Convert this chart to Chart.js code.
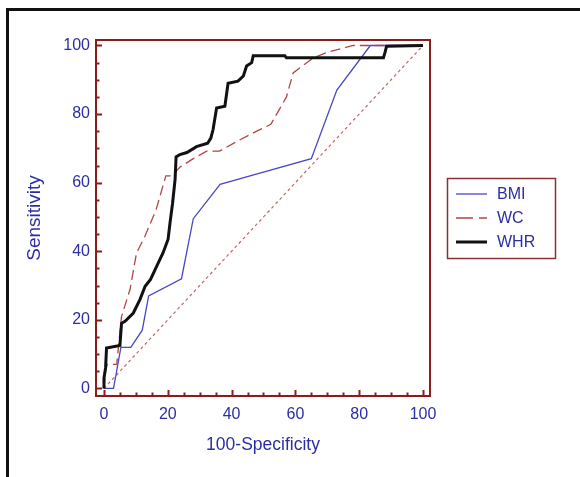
<!DOCTYPE html>
<html>
<head>
<meta charset="utf-8">
<script src="https://cdn.jsdelivr.net/npm/chart.js@4.4.1/dist/chart.umd.min.js"></script>
<style>
  html, body { margin: 0; padding: 0; background: #ffffff; }
  #wrap { position: relative; width: 580px; height: 477px; overflow: hidden; }
  canvas { position: absolute; left: 0; top: 0; }
</style>
</head>
<body>
<div id="wrap"><canvas id="c" width="580" height="477"></canvas></div>
<script>
// ---- data ----
const X_TICKS = [0, 20, 40, 60, 80, 100];
const Y_TICKS = [0, 20, 40, 60, 80, 100];
const X_TITLE = '100-Specificity';
const Y_TITLE = 'Sensitivity';
const SERIES_NAMES = ['BMI', 'WC', 'WHR'];

const BMI_X = [0, 3, 5.3, 8.4, 12, 14, 24.3, 28, 36.4, 45.8, 65, 73, 83.5, 100];
const BMI_Y = [0, 0, 12, 12, 17, 27, 32, 49.5, 59.5, 62, 67, 87, 100, 100];

const WC_X = [0, 0.5, 1, 4, 5.5, 8.2, 10.2, 12.9, 16.3, 19.4, 21.2, 23.8, 28, 32.2, 36.2, 42, 46.8, 52.3, 57.2, 59.3, 65.6, 70, 78, 100];
const WC_Y = [0, 5, 7, 7, 21, 29, 39.5, 44.5, 52, 62, 62, 64.5, 67, 69.2, 69.2, 72.2, 74.5, 77, 85, 92, 96.4, 98, 100, 100];

const WHR_X = [0, 0, 0.5, 0.8, 5, 5.5, 6.6, 9.2, 11.3, 12.9, 14.6, 16.5, 18.5, 20.1, 20.7, 21.5, 22.3, 22.6, 23.8, 26, 29, 32.5, 33.5, 34.2, 35.3, 37.9, 38.9, 42, 43.7, 44.7, 46.3, 46.8, 56.7, 57.2, 87.6, 88.1, 88.6, 100];
const WHR_Y = [0, 3, 6, 11.8, 12.5, 19, 19.6, 22, 26, 29.8, 31.8, 35.6, 39.5, 43.5, 48.3, 54, 61, 67.5, 68.2, 68.8, 70.5, 71.5, 73, 75.5, 81.8, 82.3, 89, 89.6, 91.1, 94, 95, 97, 97, 96.4, 96.4, 98, 99.8, 100];

const DIAG_X = [0, 100];
const DIAG_Y = [0, 100];

// ---- styling ----
const FONT = "'Liberation Sans', Arial, sans-serif";
const TEXT_COLOR = '#2d2da3';
const FRAME_COLOR = '#8b1c1c';

function pts(xs, ys) { return xs.map((x, i) => ({ x: x, y: ys[i] })); }

const framePlugin = {
  id: 'framePlugin',
  beforeDraw(chart) {
    const ctx = chart.ctx;
    ctx.save();
    ctx.fillStyle = '#ffffff';
    ctx.fillRect(0, 0, chart.width, chart.height);
    // outer black page frame
    ctx.fillStyle = '#111111';
    ctx.fillRect(6, 8, chart.width - 6, 3);
    ctx.fillRect(6, 8, 3, chart.height - 8);
    ctx.restore();
  },
  beforeDatasetsDraw(chart) {
    const ctx = chart.ctx;
    const a = chart.chartArea;
    const xs = chart.scales.x, ys = chart.scales.y;
    ctx.save();
    ctx.strokeStyle = FRAME_COLOR;
    ctx.lineWidth = 2;
    ctx.lineCap = 'butt';
    ctx.beginPath();
    for (let v = 0; v <= 100; v += 5) {
      const len = (v % 20 === 0) ? 6 : 3.5;
      const px = Math.round(xs.getPixelForValue(v)) + 0.5;
      ctx.moveTo(px, a.bottom);
      ctx.lineTo(px, a.bottom - len);
      const py = Math.round(ys.getPixelForValue(v)) + 0.5;
      ctx.moveTo(a.left, py);
      ctx.lineTo(a.left + len, py);
    }
    ctx.stroke();
    ctx.strokeRect(a.left, a.top, a.right - a.left, a.bottom - a.top);
    ctx.restore();
  },
  afterDraw(chart) {
    // legend box
    const ctx = chart.ctx;
    ctx.save();
    ctx.strokeStyle = '#8b3030';
    ctx.lineWidth = 1.5;
    ctx.strokeRect(447.5, 178.5, 108, 80);
    const rows = [194, 218, 242];
    chart.data.datasets.forEach((ds) => {
      const idx = SERIES_NAMES.indexOf(ds.label);
      if (idx < 0) return;
      const y = rows[idx];
      ctx.beginPath();
      ctx.strokeStyle = ds.borderColor;
      ctx.lineWidth = ds.borderWidth;
      ctx.setLineDash(ds.borderDash && ds.borderDash.length ? [17, 6] : []);
      ctx.moveTo(456, y);
      ctx.lineTo(487, y);
      ctx.stroke();
      ctx.setLineDash([]);
      ctx.fillStyle = TEXT_COLOR;
      ctx.font = '16px ' + FONT;
      ctx.textBaseline = 'middle';
      ctx.textAlign = 'left';
      ctx.fillText(ds.label, 497, y + 1);
    });
    ctx.restore();
  }
};

new Chart(document.getElementById('c'), {
  type: 'scatter',
  data: {
    datasets: [
      { label: 'diag', data: pts(DIAG_X, DIAG_Y), showLine: true, borderColor: '#c46464', borderWidth: 1.2, borderDash: [3, 3], pointRadius: 0, tension: 0, order: 4 },
      { label: SERIES_NAMES[0], data: pts(BMI_X, BMI_Y), showLine: true, borderColor: '#4848c4', borderWidth: 1.3, pointRadius: 0, tension: 0, order: 3 },
      { label: SERIES_NAMES[1], data: pts(WC_X, WC_Y), showLine: true, borderColor: '#b24646', borderWidth: 1.3, borderDash: [10, 5], pointRadius: 0, tension: 0, order: 2 },
      { label: SERIES_NAMES[2], data: pts(WHR_X, WHR_Y), showLine: true, borderColor: '#111111', borderWidth: 3, pointRadius: 0, tension: 0, order: 1 }
    ]
  },
  options: {
    responsive: false,
    animation: false,
    devicePixelRatio: 1,
    layout: { padding: { left: 0, right: 150, top: 40, bottom: 0 } },
    plugins: { legend: { display: false }, tooltip: { enabled: false } },
    scales: {
      x: {
        type: 'linear', min: -2.5, max: 102.2,
        afterBuildTicks: (s) => { s.ticks = X_TICKS.map(v => ({ value: v })); },
        afterFit: (s) => { s.height = 81; },
        grid: { display: false, drawTicks: false },
        border: { display: false },
        ticks: { color: TEXT_COLOR, font: { family: FONT, size: 16 }, padding: 9, maxRotation: 0, autoSkip: false },
        title: { display: true, text: X_TITLE, color: TEXT_COLOR, font: { family: FONT, size: 17.5 }, padding: { top: 0, bottom: 21 } }
      },
      y: {
        type: 'linear', min: -2.2, max: 101.6,
        afterBuildTicks: (s) => { s.ticks = Y_TICKS.map(v => ({ value: v })); },
        afterFit: (s) => { s.width = 96; },
        grid: { display: false, drawTicks: false },
        border: { display: false },
        ticks: { color: TEXT_COLOR, font: { family: FONT, size: 16 }, padding: 6, autoSkip: false },
        title: { display: true, text: Y_TITLE, color: TEXT_COLOR, font: { family: FONT, size: 19 }, padding: { top: 23, bottom: 0 } }
      }
    }
  },
  plugins: [framePlugin]
});
</script>
</body>
</html>
